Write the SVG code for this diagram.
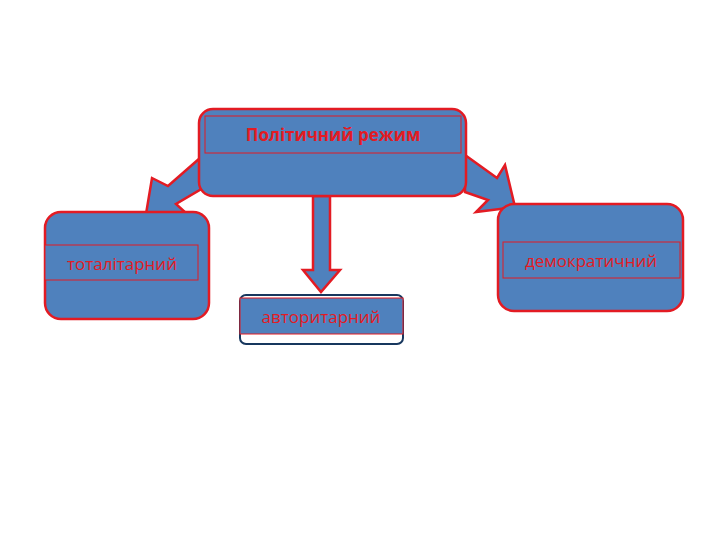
<svg xmlns="http://www.w3.org/2000/svg" width="720" height="540" viewBox="0 0 720 540">
<style>
.b{fill:#4f81bd;stroke:#e31b23;stroke-width:2.5}
.i{fill:#4f81bd;stroke:#e31b23;stroke-width:1}
.t{font-family:"Open Sans","DejaVu Sans",sans-serif;font-size:17px;fill:#e31b23;text-anchor:middle}
</style>
<rect width="720" height="540" fill="#fff"/>
<g id="connectors">
<polygon class="b" points="200,158 168,186 152,178 146,214 186,213 176,204 203,188"/>
<polygon class="b" points="465,155 497,178 505,165 515,207 476,212 488,200 465,192"/>
<polygon class="b" points="313,196 330,196 330,270 340,270 321,292 303,270 313,270"/>
</g>
<g id="main">
<rect class="b" x="199" y="109" width="267" height="87" rx="14"/>
<rect class="i" x="205" y="116" width="256" height="37"/>
<text class="t" x="333" y="141" font-weight="bold">Політичний режим</text>
</g>
<g id="total">
<rect class="b" x="45" y="212" width="164" height="107" rx="16"/>
<rect class="i" x="45" y="245" width="153" height="35"/>
<text class="t" x="122" y="270">тоталітарний</text>
</g>
<g id="democ">
<rect class="b" x="498" y="204" width="185" height="107" rx="16"/>
<rect class="i" x="503" y="242" width="177" height="36"/>
<text class="t" x="591" y="267">демократичний</text>
</g>
<g id="avtor">
<rect x="240" y="295" width="163" height="49" rx="6" fill="#fff" stroke="#17375e" stroke-width="2"/>
<rect class="i" x="240" y="298" width="163" height="36"/>
<text class="t" x="321" y="323">авторитарний</text>
</g>
</svg>
